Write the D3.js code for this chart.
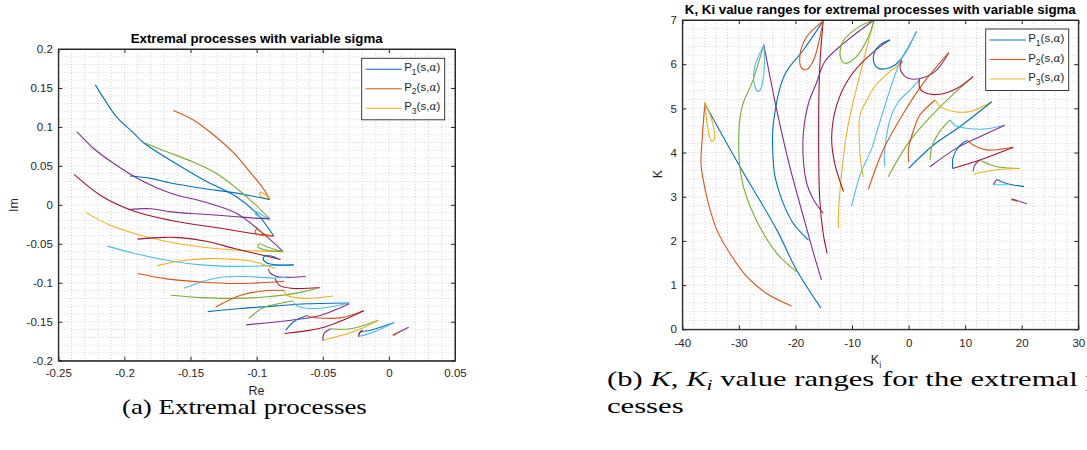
<!DOCTYPE html>
<html>
<head>
<meta charset="utf-8">
<style>
  body { margin: 0; background: white; }
  svg text { font-family: "Liberation Sans", Arial, sans-serif; fill: #262626; }
  svg text.caption { font-family: "Liberation Serif", serif; fill: #000; }
  .axis path, .axis line { stroke: #262626; }
</style>
</head>
<body>
<div id="chart"></div>
<script src="https://d3js.org/d3.v7.min.js"></script>
<script>
var palette = {blue: "#0072BD", orange: "#D95319", yellow: "#EDB120", purple: "#7E2F8E",
               green: "#77AC30", lightblue: "#4DBEEE", darkred: "#A2142F"};

// ---- panel (a): poles in the complex plane ----
var reTicks = [-0.25, -0.2, -0.15, -0.1, -0.05, 0, 0.05];
var imTicks = [-0.2, -0.15, -0.1, -0.05, 0, 0.05, 0.1, 0.15, 0.2];
var reColors = ["blue","orange","yellow","blue","green","lightblue","purple","purple","darkred","orange",
  "yellow","green","darkred","lightblue","blue","yellow","purple","lightblue","orange","darkred",
  "green","orange","yellow","blue","lightblue","green","purple","orange","blue","darkred",
  "purple","green","yellow","blue","lightblue","darkred","purple","orange"];
var reCurves = [
  [[-0.222,0.154],[-0.215,0.135],[-0.206,0.113],[-0.193,0.092],[-0.185,0.079],[-0.163,0.055],[-0.140,0.032],[-0.115,0.010],[-0.100,-0.011],[-0.087,-0.040]],
  [[-0.163,0.121],[-0.148,0.109],[-0.132,0.089],[-0.117,0.066],[-0.105,0.042],[-0.095,0.021],[-0.090,0.007]],
  [[-0.090,0.007],[-0.094,0.014],[-0.097,0.016],[-0.098,0.013],[-0.095,0.009],[-0.090,0.007]],
  [[-0.196,0.037],[-0.180,0.034],[-0.165,0.028],[-0.140,0.021],[-0.115,0.015],[-0.100,0.010],[-0.090,0.007]],
  [[-0.184,0.079],[-0.168,0.068],[-0.148,0.055],[-0.130,0.040],[-0.115,0.021],[-0.102,0.002],[-0.090,-0.018]],
  [[-0.090,-0.018],[-0.096,-0.013],[-0.100,-0.009],[-0.101,-0.012],[-0.097,-0.016],[-0.090,-0.018]],
  [[-0.197,-0.006],[-0.180,-0.005],[-0.165,-0.009],[-0.140,-0.012],[-0.117,-0.015],[-0.102,-0.017],[-0.090,-0.018]],
  [[-0.236,0.094],[-0.223,0.072],[-0.208,0.053],[-0.188,0.032],[-0.165,0.015],[-0.140,0.004],[-0.115,-0.011],[-0.095,-0.037],[-0.080,-0.060]],
  [[-0.238,0.039],[-0.218,0.012],[-0.193,-0.008],[-0.165,-0.020],[-0.127,-0.030],[-0.102,-0.037],[-0.087,-0.040]],
  [[-0.087,-0.040],[-0.095,-0.037],[-0.100,-0.031],[-0.101,-0.036],[-0.096,-0.039],[-0.087,-0.040]],
  [[-0.229,-0.010],[-0.211,-0.026],[-0.188,-0.039],[-0.165,-0.048],[-0.142,-0.054],[-0.117,-0.058],[-0.080,-0.060]],
  [[-0.080,-0.060],[-0.092,-0.054],[-0.098,-0.050],[-0.099,-0.054],[-0.093,-0.058],[-0.080,-0.060]],
  [[-0.190,-0.044],[-0.175,-0.042],[-0.158,-0.042],[-0.137,-0.047],[-0.117,-0.056],[-0.097,-0.064],[-0.082,-0.070]],
  [[-0.213,-0.053],[-0.193,-0.062],[-0.168,-0.071],[-0.142,-0.077],[-0.117,-0.079],[-0.092,-0.078],[-0.072,-0.077]],
  [[-0.085,-0.068],[-0.092,-0.065],[-0.095,-0.068],[-0.093,-0.074],[-0.085,-0.077],[-0.072,-0.077]],
  [[-0.175,-0.078],[-0.158,-0.072],[-0.137,-0.069],[-0.117,-0.070],[-0.102,-0.073],[-0.086,-0.082]],
  [[-0.091,-0.082],[-0.090,-0.087],[-0.085,-0.092],[-0.074,-0.093],[-0.063,-0.092]],
  [[-0.155,-0.107],[-0.142,-0.099],[-0.127,-0.093],[-0.107,-0.092],[-0.087,-0.094],[-0.077,-0.093]],
  [[-0.190,-0.088],[-0.168,-0.095],[-0.142,-0.099],[-0.117,-0.101],[-0.097,-0.100],[-0.079,-0.098]],
  [[-0.086,-0.095],[-0.083,-0.103],[-0.074,-0.107],[-0.052,-0.106]],
  [[-0.165,-0.116],[-0.142,-0.119],[-0.120,-0.120],[-0.092,-0.118],[-0.066,-0.112],[-0.052,-0.106]],
  [[-0.131,-0.131],[-0.112,-0.116],[-0.092,-0.110],[-0.079,-0.110]],
  [[-0.079,-0.110],[-0.077,-0.116],[-0.064,-0.120],[-0.042,-0.117]],
  [[-0.137,-0.137],[-0.112,-0.133],[-0.087,-0.130],[-0.062,-0.127],[-0.030,-0.126]],
  [[-0.072,-0.125],[-0.069,-0.130],[-0.054,-0.133],[-0.030,-0.126]],
  [[-0.106,-0.146],[-0.095,-0.132],[-0.081,-0.126],[-0.072,-0.123]],
  [[-0.108,-0.154],[-0.074,-0.148],[-0.052,-0.142],[-0.030,-0.127]],
  [[-0.062,-0.142],[-0.059,-0.144],[-0.037,-0.145],[-0.019,-0.136]],
  [[-0.078,-0.161],[-0.072,-0.150],[-0.062,-0.142]],
  [[-0.079,-0.165],[-0.049,-0.157],[-0.019,-0.136]],
  [[-0.050,-0.174],[-0.049,-0.165],[-0.044,-0.159]],
  [[-0.044,-0.159],[-0.029,-0.159],[-0.008,-0.148]],
  [[-0.050,-0.174],[-0.024,-0.161],[-0.008,-0.148]],
  [[-0.023,-0.166],[-0.021,-0.163],[-0.014,-0.161],[0.004,-0.151]],
  [[-0.023,-0.169],[-0.011,-0.163],[0.004,-0.151]],
  [[-0.023,-0.169],[-0.022,-0.164],[-0.020,-0.161]],
  [[0.003,-0.167],[0.015,-0.157]],
  [[0.003,-0.168],[0.008,-0.163]]
];

// ---- panel (b): K, Ki ranges ----
var kiTicks = [-40, -30, -20, -10, 0, 10, 20, 30];
var kTicks = [0, 1, 2, 3, 4, 5, 6, 7];
var kColors = ["blue","orange","yellow","purple","green","lightblue","darkred","blue","orange","yellow",
  "purple","green","darkred","blue","lightblue","yellow","lightblue","purple","orange","green",
  "darkred","orange","yellow","blue","green","lightblue","purple","blue","orange","darkred",
  "purple","green","yellow","darkred","blue","lightblue","orange","purple"];
var kCurves = [
  [[-36.0,5.10],[-29.8,3.68],[-23.3,2.25],[-19.8,1.34],[-15.5,0.48]],
  [[-36.0,5.13],[-36.5,4.28],[-36.7,3.76],[-36.3,3.38],[-35.4,2.85],[-33.9,2.25],[-31.6,1.72],[-28.6,1.19],[-25.1,0.81],[-20.7,0.53]],
  [[-36.0,5.13],[-35.7,4.74],[-35.2,4.36],[-34.8,4.25],[-34.3,4.32],[-34.5,4.59],[-35.4,4.96],[-36.0,5.13]],
  [[-25.6,6.45],[-23.3,4.96],[-21.0,3.68],[-18.6,2.55],[-16.8,1.72],[-15.4,1.12]],
  [[-25.6,6.43],[-27.5,5.64],[-29.5,5.00],[-30.0,3.98],[-29.2,3.23],[-26.9,2.47],[-23.3,1.72],[-19.8,1.30]],
  [[-25.6,6.43],[-27.2,5.94],[-27.3,5.57],[-26.6,5.38],[-26.0,5.49],[-25.5,5.94],[-25.6,6.43]],
  [[-15.1,6.98],[-15.7,5.94],[-15.9,4.44],[-15.7,2.93],[-15.1,2.17],[-14.4,1.72]],
  [[-15.1,6.98],[-18.6,6.32],[-21.9,5.76],[-23.9,4.66],[-24.0,3.98],[-23.6,3.45],[-22.4,2.93],[-20.4,2.40],[-17.7,2.02]],
  [[-15.1,6.98],[-18.0,6.62],[-19.2,6.21],[-18.9,5.91],[-18.0,5.88],[-16.8,6.09],[-15.1,6.98]],
  [[-6.1,7.0],[-8.6,5.76],[-10.7,4.62],[-11.8,3.57],[-12.4,2.59],[-12.4,2.29]],
  [[-6.1,7.0],[-11.5,6.47],[-14.8,6.06],[-16.3,5.57],[-17.7,5.11],[-18.6,4.44],[-18.6,3.83],[-18.0,3.30],[-16.8,2.93],[-15.1,2.63]],
  [[-6.1,7.0],[-9.2,6.81],[-11.8,6.47],[-12.0,6.13],[-11.2,6.02],[-9.2,6.17],[-7.1,6.62],[-6.1,7.0]],
  [[-3.3,6.55],[-6.2,6.28],[-10.1,5.76],[-12.7,5.08],[-13.6,4.32],[-13.0,3.72],[-11.5,3.12]],
  [[-3.3,6.55],[-5.1,6.43],[-6.1,6.25],[-6.2,6.06],[-5.5,5.92],[-4.2,5.89],[-2.4,5.98],[-0.6,6.25],[0.5,6.51],[1.4,6.74]],
  [[1.4,6.74],[0.0,6.40],[-1.5,6.06],[-3.3,5.42],[-4.5,4.93],[-5.7,4.44],[-6.5,4.10],[-8.6,3.49],[-9.5,3.08],[-10.1,2.78]],
  [[-0.9,6.06],[-3.3,5.83],[-6.0,5.49],[-7.7,5.11],[-8.6,4.85],[-8.7,4.28],[-8.5,3.83],[-8.0,3.45]],
  [[2.0,5.66],[0.3,5.42],[-1.8,5.15],[-3.3,4.74],[-4.0,4.28],[-4.3,3.91],[-4.2,3.68]],
  [[-1.2,6.09],[-1.5,5.91],[-0.6,5.72],[0.8,5.66],[3.2,5.72],[5.0,5.87],[7.1,6.26]],
  [[7.1,6.26],[2.6,5.57],[-0.9,4.89],[-4.5,4.06],[-7.1,3.17]],
  [[11.4,5.72],[5.6,5.04],[0.3,4.28],[-3.6,3.45]],
  [[1.9,5.66],[2.0,5.45],[3.2,5.34],[5.6,5.32],[8.5,5.45],[11.4,5.72]],
  [[0.0,3.79],[0.0,4.10],[0.9,4.51],[2.0,4.85],[4.7,5.19]],
  [[4.7,5.19],[5.6,5.04],[7.9,4.93],[10.9,4.93],[14.7,5.15]],
  [[0.0,3.64],[4.4,4.17],[9.1,4.59],[14.7,5.15]],
  [[3.8,3.83],[4.1,4.13],[5.3,4.44],[7.3,4.74]],
  [[7.3,4.74],[8.2,4.62],[10.3,4.55],[13.2,4.53],[17.0,4.62]],
  [[3.8,3.68],[8.5,4.10],[12.6,4.36],[17.0,4.62]],
  [[7.8,3.64],[7.9,3.91],[9.1,4.17],[10.4,4.28]],
  [[10.4,4.28],[11.4,4.17],[13.8,4.06],[18.5,4.12]],
  [[7.8,3.64],[12.6,3.83],[18.5,4.12]],
  [[11.4,3.57],[11.7,3.72],[12.6,3.83]],
  [[12.6,3.83],[13.2,3.79],[15.6,3.68],[19.7,3.64]],
  [[11.4,3.51],[15.6,3.61],[19.7,3.64]],
  [[15.0,3.27],[15.3,3.34],[15.6,3.39]],
  [[15.6,3.39],[17.3,3.30],[20.4,3.23]],
  [[15.0,3.27],[17.5,3.27]],
  [[18.1,2.94],[19.2,2.90]],
  [[18.3,2.95],[20.9,2.84]]
];

var legendSubs = ["1", "2", "3"];
var legendColors = ["blue", "orange", "yellow"];

var svg = d3.select("#chart").append("svg")
    .attr("width", 1087).attr("height", 450)
    .style("background", "#fff");

function fmt(v) {
  var s = String(+v.toFixed(2));
  return s === "-0" ? "0" : s;
}

function panel(cfg, id) {
  var x = d3.scaleLinear().domain(cfg.xDomain).range([cfg.left, cfg.right]);
  var y = d3.scaleLinear().domain(cfg.yDomain).range([cfg.bottom, cfg.top]);
  var g = svg.append("g");

  // minor + major grid, dotted like MATLAB's grid minor
  var xm = d3.range(0, Math.round((cfg.xDomain[1] - cfg.xDomain[0]) / cfg.xMinor) + 1)
      .map(i => cfg.xDomain[0] + i * cfg.xMinor);
  var ym = d3.range(0, Math.round((cfg.yDomain[1] - cfg.yDomain[0]) / cfg.yMinor) + 1)
      .map(i => cfg.yDomain[0] + i * cfg.yMinor);
  g.selectAll(".gx").data(xm).enter().append("line")
      .attr("x1", d => x(d)).attr("x2", d => x(d))
      .attr("y1", cfg.top).attr("y2", cfg.bottom)
      .attr("stroke", "#c9c9c9").attr("stroke-width", 0.8).attr("stroke-dasharray", "1,2");
  g.selectAll(".gy").data(ym).enter().append("line")
      .attr("y1", d => y(d)).attr("y2", d => y(d))
      .attr("x1", cfg.left).attr("x2", cfg.right)
      .attr("stroke", "#c9c9c9").attr("stroke-width", 0.8).attr("stroke-dasharray", "1,2");

  // curves
  svg.append("clipPath").attr("id", "clip" + id).append("rect")
      .attr("x", cfg.left).attr("y", cfg.top)
      .attr("width", cfg.right - cfg.left).attr("height", cfg.bottom - cfg.top);
  var line = d3.line().x(d => x(d[0])).y(d => y(d[1]))
      .curve(d3.curveCatmullRom.alpha(0.5));
  g.append("g").attr("clip-path", "url(#clip" + id + ")")
    .selectAll("path").data(cfg.curves).enter().append("path")
      .attr("d", line)
      .attr("fill", "none")
      .attr("stroke", (d, i) => palette[cfg.colors[i]])
      .attr("stroke-width", 1.1);

  // axes on all four sides, ticks pointing inward
  g.append("g").attr("class", "axis").attr("transform", "translate(0," + cfg.bottom + ")")
      .call(d3.axisBottom(x).tickValues(cfg.xTicks).tickFormat(fmt).tickSizeInner(-4).tickSizeOuter(0).tickPadding(cfg.xPad));
  g.append("g").attr("class", "axis").attr("transform", "translate(0," + cfg.top + ")")
      .call(d3.axisTop(x).tickValues(cfg.xTicks).tickFormat("").tickSizeInner(-4).tickSizeOuter(0));
  g.append("g").attr("class", "axis").attr("transform", "translate(" + cfg.left + ",0)")
      .call(d3.axisLeft(y).tickValues(cfg.yTicks).tickFormat(fmt).tickSizeInner(-4).tickSizeOuter(0).tickPadding(5.5));
  g.append("g").attr("class", "axis").attr("transform", "translate(" + cfg.right + ",0)")
      .call(d3.axisRight(y).tickValues(cfg.yTicks).tickFormat("").tickSizeInner(-4).tickSizeOuter(0));
  g.selectAll(".axis text").attr("font-size", 11.5).attr("font-family", null).style("fill", "#262626");
  g.append("rect").attr("x", cfg.left).attr("y", cfg.top)
      .attr("width", cfg.right - cfg.left).attr("height", cfg.bottom - cfg.top)
      .attr("fill", "none").attr("stroke", "#262626").attr("stroke-width", 0.9);

  // title
  g.append("text").attr("x", (cfg.left + cfg.right) / 2).attr("y", cfg.titleY)
      .attr("text-anchor", "middle").attr("font-weight", "bold").attr("font-size", 13.3)
      .style("fill", "#000").text(cfg.title);

  // legend
  var lg = g.append("g").attr("transform", "translate(" + cfg.legend[0] + "," + cfg.legend[1] + ")");
  lg.append("rect").attr("width", 83).attr("height", 61.5)
      .attr("fill", "#fff").attr("stroke", "#262626").attr("stroke-width", 0.9);
  legendSubs.forEach(function(s, i) {
    var yy = 11 + i * 19.5;
    lg.append("line").attr("x1", 4).attr("x2", 40).attr("y1", yy).attr("y2", yy)
        .attr("stroke", palette[legendColors[i]]).attr("stroke-width", 1.1);
    var t = lg.append("text").attr("x", 42.5).attr("y", yy + 2).attr("font-size", 11.5);
    t.append("tspan").text("P");
    t.append("tspan").attr("font-size", 8.5).attr("dy", 3.5).text(s);
    t.append("tspan").attr("dy", -3.5).text("(s,");
    t.append("tspan").attr("font-family", "DejaVu Serif").attr("font-style", "italic").attr("font-size", 10.5).text("\u03b1");
    t.append("tspan").text(")");
  });
  return {x: x, y: y};
}

panel({xDomain: [-0.25, 0.05], yDomain: [-0.2, 0.2], left: 58.3, right: 455, top: 49, bottom: 360.7,
       xMinor: 0.01, yMinor: 0.01, xTicks: reTicks, yTicks: imTicks, xPad: 8,
       curves: reCurves, colors: reColors, title: "Extremal processes with variable sigma", titleY: 43.3,
       legend: [361.7, 58.3]}, "a");
panel({xDomain: [-40, 30], yDomain: [0, 7], left: 682.3, right: 1078.3, top: 20, bottom: 329.3,
       xMinor: 2, yMinor: 0.2, xTicks: kiTicks, yTicks: kTicks, xPad: 9.5,
       curves: kCurves, colors: kColors, title: "K, Ki value ranges for extremal processes with variable sigma", titleY: 14,
       legend: [985.7, 29]}, "b");

// axis labels
svg.append("text").attr("x", 256.5).attr("y", 395).attr("text-anchor", "middle").attr("font-size", 12.5).text("Re");
svg.append("text").attr("transform", "translate(18,205) rotate(-90)").attr("text-anchor", "middle").attr("font-size", 12.5).text("Im");
var kiLab = svg.append("text").attr("x", 876).attr("y", 364).attr("text-anchor", "middle").attr("font-size", 12.5);
kiLab.append("tspan").text("K");
kiLab.append("tspan").attr("font-size", 9).attr("dy", 4).text("i");
svg.append("text").attr("transform", "translate(662,174) rotate(-90)").attr("text-anchor", "middle").attr("font-size", 12.5).text("K");

// captions (serif, stretched to the width seen in the figure)
function fitText(sel, width) {
  var w = sel.node().getComputedTextLength();
  var s = width / w;
  var x0 = +sel.attr("x"), y0 = +sel.attr("y");
  sel.attr("transform", "translate(" + x0 + "," + y0 + ") scale(" + s + ",1) translate(" + (-x0) + "," + (-y0) + ")");
  return s;
}
var capA = svg.append("text").attr("class", "caption").attr("x", 122).attr("y", 414).attr("font-size", 20)
    .text("(a) Extremal processes");
fitText(capA, 245);

var capB = svg.append("text").attr("class", "caption").attr("x", 607).attr("y", 386).attr("font-size", 20);
capB.append("tspan").text("(b) ");
capB.append("tspan").attr("font-style", "italic").text("K");
capB.append("tspan").text(", ");
capB.append("tspan").attr("font-style", "italic").text("K");
capB.append("tspan").attr("font-style", "italic").attr("font-size", 14).attr("dy", 4).text("i");
capB.append("tspan").attr("dy", -4).text(" value ranges for the extremal ");
var sB = fitText(capB, 471);
capB.append("tspan").text("pro-");
var capC = svg.append("text").attr("class", "caption").attr("x", 607).attr("y", 413).attr("font-size", 20)
    .text("cesses");
capC.attr("transform", "translate(607,413) scale(" + sB + ",1) translate(-607,-413)");
</script>
</body>
</html>
